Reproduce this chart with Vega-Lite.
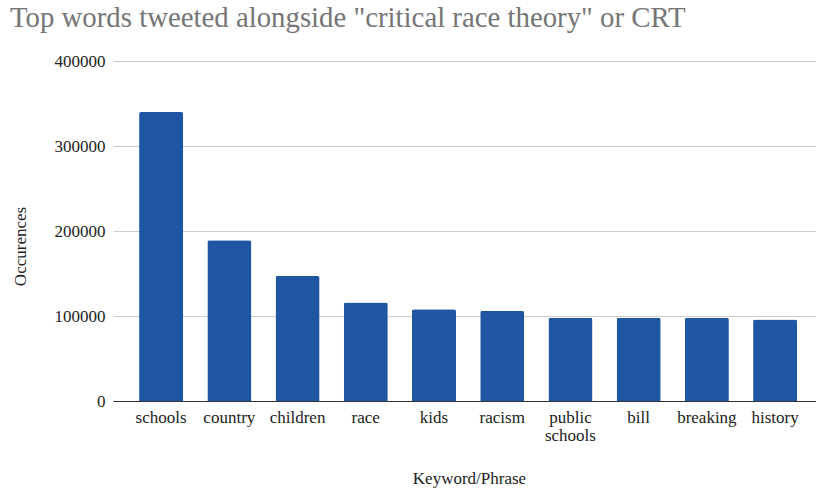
{
  "$schema": "https://vega.github.io/schema/vega-lite/v6.json",
  "width": 703,
  "height": 340,
  "autosize": {"type": "none"},
  "padding": {"left": 113, "top": 61, "right": 0, "bottom": 88},
  "background": "white",
  "title": {
    "text": "Top words tweeted alongside \"critical race theory\" or CRT",
    "anchor": "start",
    "frame": "group",
    "orient": "top",
    "font": "Liberation Serif",
    "fontSize": 28.8,
    "fontWeight": "normal",
    "color": "#757575",
    "dx": -103,
    "offset": 19
  },
  "data": {
    "values": [
      {"keyword": "schools", "occurrences": 340000},
      {"keyword": "country", "occurrences": 189000},
      {"keyword": "children", "occurrences": 147000},
      {"keyword": "race", "occurrences": 116000},
      {"keyword": "kids", "occurrences": 108000},
      {"keyword": "racism", "occurrences": 106000},
      {"keyword": "public schools", "occurrences": 98000},
      {"keyword": "bill", "occurrences": 98000},
      {"keyword": "breaking", "occurrences": 98000},
      {"keyword": "history", "occurrences": 96000}
    ]
  },
  "mark": {
    "type": "bar",
    "color": "#1f56a4",
    "cornerRadiusTopLeft": 2,
    "cornerRadiusTopRight": 2
  },
  "encoding": {
    "x": {
      "field": "keyword",
      "type": "nominal",
      "sort": null,
      "scale": {"paddingInner": 0.355, "paddingOuter": 0.33, "align": 0.58},
      "axis": {
        "title": "Keyword/Phrase",
        "titleFont": "Liberation Serif",
        "titleFontSize": 17,
        "titleFontWeight": "normal",
        "titleColor": "#222222",
        "titleX": 356,
        "titleY": 82,
        "titleBaseline": "alphabetic",
        "labelFont": "Liberation Serif",
        "labelFontSize": 17,
        "labelColor": "#222222",
        "labelAngle": 0,
        "labelPadding": 8,
        "labelExpr": "split(datum.label, ' ')",
        "labelLineHeight": 18,
        "ticks": false,
        "domainColor": "#333333",
        "domainWidth": 1.2
      }
    },
    "y": {
      "field": "occurrences",
      "type": "quantitative",
      "scale": {"domain": [0, 400000], "nice": false},
      "axis": {
        "title": "Occurences",
        "titleFont": "Liberation Serif",
        "titleFontSize": 17,
        "titleFontWeight": "normal",
        "titleColor": "#222222",
        "titleX": -93,
        "titleY": 185,
        "titleAngle": -90,
        "titleAlign": "center",
        "titleBaseline": "middle",
        "values": [0, 100000, 200000, 300000, 400000],
        "format": "d",
        "labelFont": "Liberation Serif",
        "labelFontSize": 17,
        "labelColor": "#222222",
        "labelPadding": 8,
        "ticks": false,
        "domain": false,
        "gridColor": "#cccccc",
        "gridWidth": 1
      }
    }
  },
  "config": {
    "view": {"stroke": null}
  }
}
